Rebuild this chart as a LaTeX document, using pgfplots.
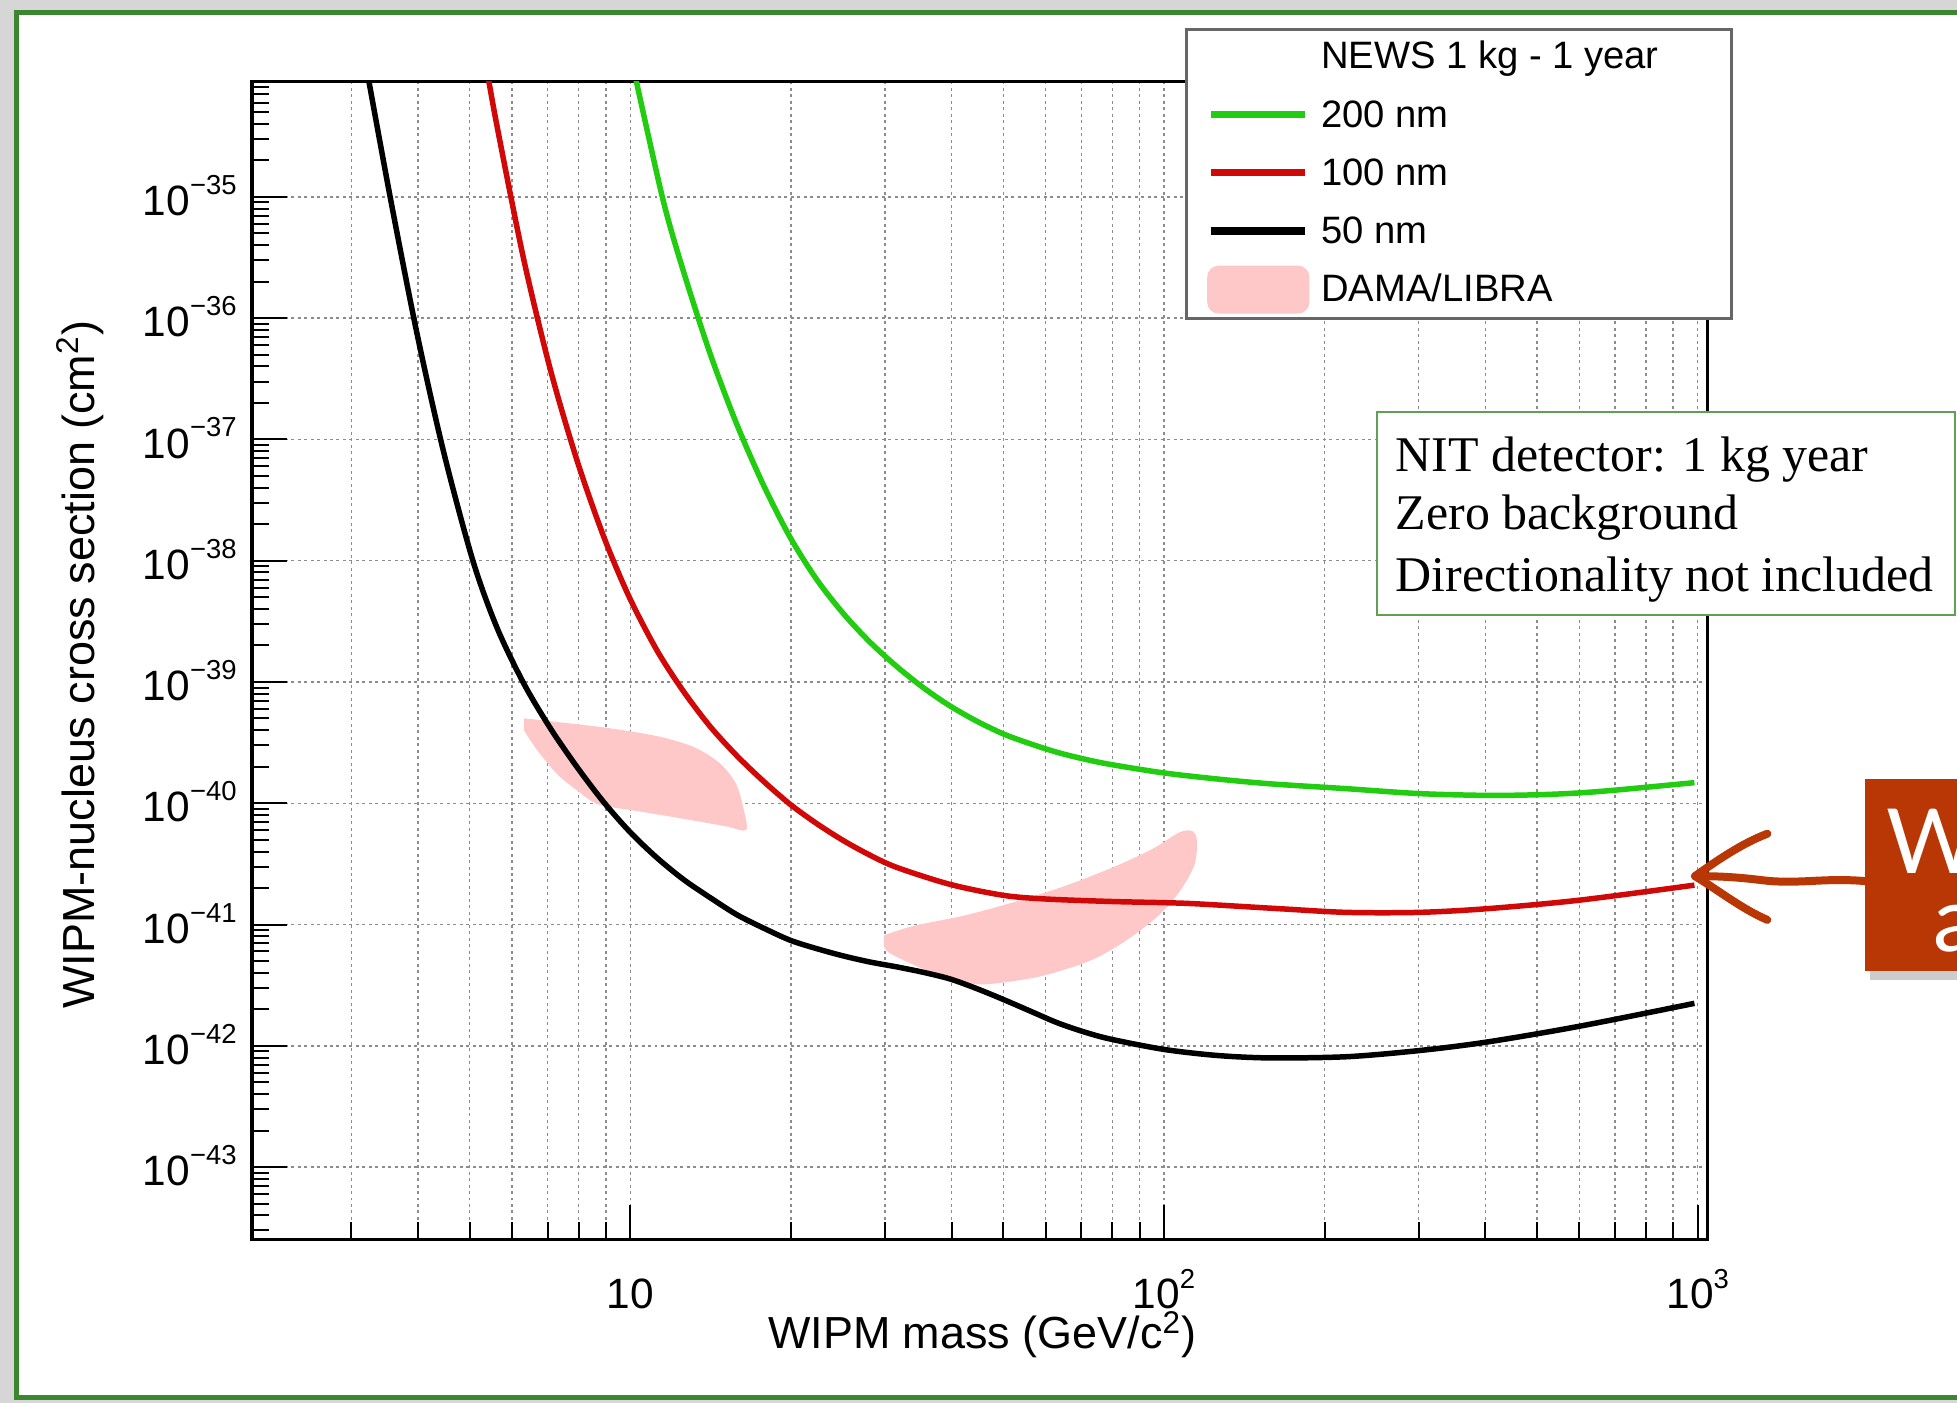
\documentclass[border=0pt]{standalone}
\usepackage{pgfplots}
\pgfplotsset{compat=1.18}
\usepackage{fontspec}
\setmainfont{Liberation Sans}
\newfontfamily\timesfont{Liberation Serif}
\newfontfamily\latofont{Lato}
\definecolor{cgreen}{RGB}{34,204,17}
\definecolor{cred}{RGB}{208,8,8}
\definecolor{cpink}{RGB}{255,200,200}
\definecolor{frameg}{RGB}{58,135,48}
\definecolor{boxg}{RGB}{95,160,85}
\definecolor{orng}{RGB}{185,55,5}
\newcommand\tsup[1]{\raisebox{8.5pt}{\fontsize{11}{11}\selectfont #1}}
\newcommand\lsup[1]{\raisebox{8pt}{\fontsize{11}{11}\selectfont #1}}
\def\yminorlist{}
\foreach \k in {-44,...,-35}{\foreach \m in {2,...,9}{\ifx\yminorlist\empty\xdef\yminorlist{\m e\k}\else\xdef\yminorlist{\yminorlist,\m e\k}\fi}}

\begin{document}
\begin{tikzpicture}
\path[use as bounding box] (0pt,0pt) rectangle (784pt,-562pt);
\begin{scope}[x=0.5pt,y=-0.5pt]
\clip (0,0) rectangle (1568,1124);
\fill[black!16] (0,0) rectangle (1568,1124);
\fill[white] (13,10) rectangle (1600,1120);
\draw[frameg, line width=2pt] (13,10) rectangle (1600,1120);
\end{scope}

\begin{axis}[
  at={(101pt,-496.5pt)}, anchor=south west,
  scale only axis, width=583pt, height=464pt,
  xmode=log, ymode=log,
  xmin=1.956, xmax=1043, ymin=2.53e-44, ymax=9.0e-35,
  xtick={10,100,1000}, xticklabels={10, 10\lsup{2}, 10\lsup{3}},
  minor xtick={3,4,5,6,7,8,9,20,30,40,50,60,70,80,90,200,300,400,500,600,700,800,900},
  ytick={1e-43,1e-42,1e-41,1e-40,1e-39,1e-38,1e-37,1e-36,1e-35},
  yticklabels={10\tsup{−43},10\tsup{−42},10\tsup{−41},10\tsup{−40},10\tsup{−39},10\tsup{−38},10\tsup{−37},10\tsup{−36},10\tsup{−35}},
  minor ytick/.expanded={\yminorlist},
  tick align=inside, tick pos=left,
  major tick length=14pt, minor tick length=7pt,
  every tick/.style={black, line width=0.8pt},
  xmajorgrids, xminorgrids, ymajorgrids,
  grid style={black!45, line width=0.6pt, dash pattern=on 1.2pt off 1.4pt},
  minor grid style={black!45, line width=0.6pt, dash pattern=on 1.2pt off 1.4pt},
  axis line style={line width=1.3pt},
  tick label style={font=\fontsize{17}{17}\selectfont},
  xticklabel style={anchor=base, inner sep=0pt, yshift=-27.5pt},
  yticklabel style={anchor=base east, inner sep=0pt, xshift=-6pt, yshift=-7.5pt},
  xlabel={WIPM mass (GeV/c\textsuperscript{2})},
  ylabel={WIPM-nucleus cross section (cm\textsuperscript{2})},
  every axis x label/.style={at={(axis description cs:0.5017,-0.0945)}, anchor=base, font=\fontsize{18}{18}\selectfont},
  every axis y label/.style={at={(axis description cs:-0.1083,0.4962)}, anchor=base, rotate=90, font=\fontsize{18}{18}\selectfont},
  legend style={
    at={(axis description cs:0.6412,1.0457)}, anchor=north west,
    draw=black!60, line width=1.2pt, fill=white,
    inner xsep=8.2pt, inner ysep=0pt,
    row sep=1pt, column sep=4.75pt,
    font=\fontsize{15.3}{15.3}\selectfont,
    nodes={inner sep=0pt, text height=15.7pt, text depth=6.6pt},
  },
  legend cell align=left,
]
% DAMA/LIBRA regions
\addplot[draw=none, fill=cpink, smooth, forget plot] coordinates {
(6.324,5.012e-40) (7.295,4.677e-40) (9.099,4.169e-40) (11.32,3.548e-40) (13.21,2.884e-40)
(14.76,2.113e-40) (15.78,1.445e-40) (16.29,9.120e-41) (16.48,6.026e-41) (15.10,6.457e-41)
(12.65,7.413e-41) (10.16,8.710e-41) (8.710,9.772e-41) (7.980,1.259e-40) (7.295,1.738e-40)
(6.683,2.754e-40) (6.324,3.981e-40)
} -- cycle;
\addplot[draw=none, fill=cpink, smooth, forget plot] coordinates {
(29.85,8.128e-42) (34.04,9.772e-42) (42.36,1.189e-41) (52.84,1.549e-41) (65.92,2.113e-41)
(82.04,3.090e-41) (95.72,4.266e-41) (106.9,5.754e-41) (113.0,5.888e-41) (115.3,4.898e-41)
(114.0,3.090e-41) (106.9,1.862e-41) (97.72,1.189e-41) (85.70,7.586e-42) (73.45,5.129e-42)
(59.02,3.758e-42) (47.32,3.236e-42) (42.36,3.311e-42) (35.56,4.266e-42) (30.48,5.888e-42)
(29.85,7.079e-42)
} -- cycle;
% 200 nm
\addplot[cgreen, line width=2.2pt, smooth, forget plot] coordinates {
(10.00,1.514e-34) (11.48,1e-35) (12.59,2.399e-36) (14.13,5.012e-37) (15.85,1.318e-37)
(17.78,4.169e-38) (19.95,1.549e-38) (22.39,6.918e-39) (25.12,3.631e-39) (28.18,2.113e-39)
(31.62,1.334e-39) (35.48,8.913e-40) (39.81,6.310e-40) (44.67,4.732e-40) (50.12,3.715e-40)
(56.23,3.090e-40) (63.10,2.630e-40) (70.79,2.317e-40) (79.43,2.089e-40) (100,1.778e-40)
(125.9,1.585e-40) (158.5,1.445e-40) (220.3,1.318e-40) (299.9,1.202e-40) (401.8,1.161e-40)
(501.2,1.175e-40) (598.4,1.216e-40) (707.9,1.288e-40) (986.3,1.479e-40)
};
% 100 nm
\addplot[cred, line width=2.2pt, smooth, forget plot] coordinates {
(5.370,1.202e-34) (5.623,3.890e-35) (6.310,3.090e-36) (7.079,3.802e-37) (7.943,6.761e-38)
(8.913,1.585e-38) (9.954,5.012e-39) (11.22,1.820e-39) (12.59,8.318e-40) (14.13,4.266e-40)
(15.85,2.455e-40) (17.78,1.514e-40) (19.95,9.772e-41) (22.39,6.761e-41) (25.12,4.898e-41)
(28.18,3.715e-41) (31.62,2.951e-41) (39.81,2.138e-41) (50.12,1.738e-41) (60.26,1.622e-41)
(79.43,1.549e-41) (100,1.514e-41) (115.9,1.479e-41) (165.2,1.349e-41) (220.3,1.259e-41)
(299.9,1.259e-41) (401.8,1.349e-41) (598.4,1.585e-41) (986.3,2.113e-41)
};
% 50 nm
\addplot[black, line width=2.2pt, smooth, forget plot] coordinates {
(3.162,1.585e-34) (3.548,1e-35) (3.981,7.586e-37) (4.467,7.943e-38) (5.070,1e-38)
(5.623,2.818e-39) (6.310,9.772e-40) (7.079,4.169e-40) (7.943,1.995e-40) (8.913,1.023e-40)
(10.00,5.754e-41) (11.22,3.548e-41) (12.59,2.344e-41) (14.13,1.660e-41) (15.85,1.202e-41)
(17.78,9.333e-42) (19.95,7.413e-42) (22.39,6.310e-42) (25.12,5.495e-42) (28.18,4.898e-42)
(31.62,4.467e-42) (35.48,4.027e-42) (39.81,3.548e-42) (44.67,2.951e-42) (50.12,2.399e-42)
(56.23,1.928e-42) (63.10,1.549e-42) (70.79,1.303e-42) (79.43,1.135e-42) (100,9.333e-43)
(125.9,8.318e-43) (158.5,7.943e-43) (220.3,8.128e-43) (299.9,9.120e-43) (401.8,1.072e-42)
(598.4,1.445e-42) (986.3,2.239e-42)
};
% legend
\addlegendimage{empty legend}
\addlegendentry{\makebox[156pt][l]{NEWS 1 kg - 1 year}}
\addlegendimage{legend image code/.code={\draw[line width=3pt, cgreen] (0pt,0.5pt) -- (37.75pt,0.5pt);}}
\addlegendentry{200 nm}
\addlegendimage{legend image code/.code={\draw[line width=3pt, cred] (0pt,0.5pt) -- (37.75pt,0.5pt);}}
\addlegendentry{100 nm}
\addlegendimage{legend image code/.code={\draw[line width=3pt, black] (0pt,0.5pt) -- (37.75pt,0.5pt);}}
\addlegendentry{50 nm}
\addlegendimage{legend image code/.code={\fill[cpink, rounded corners=4pt] (-1pt,-8.75pt) rectangle (38.75pt,9.25pt);}}
\addlegendentry{DAMA/LIBRA}
\end{axis}

\begin{scope}[x=0.5pt,y=-0.5pt]
\clip (0,0) rectangle (1568,1124);
\draw[boxg, line width=0.8pt, fill=white] (1103,330) rectangle (1566,493);
\node[anchor=base west, inner sep=0pt, font=\timesfont\fontsize{20}{24}\selectfont] at (1118,378) {NIT detector: 1 kg year};
\node[anchor=base west, inner sep=0pt, font=\timesfont\fontsize{20}{24}\selectfont] at (1118,424.5) {Zero background};
\node[anchor=base west, inner sep=0pt, font=\timesfont\fontsize{20}{24}\selectfont] at (1118,474.3) {Directionality not included};
\fill[black, opacity=0.2] (1498,631) rectangle (1600,785);
\fill[orng] (1494,624) rectangle (1600,778);
\node[anchor=base west, inner sep=0pt, white, font=\latofont\fontsize{36}{36}\selectfont] at (1511,700) {W};
\node[anchor=base west, inner sep=0pt, white, font=\latofont\fontsize{36}{36}\selectfont] at (1549,762) {a};
\draw[orng, line width=3.2pt, line cap=round, line join=round] (1495,706) .. controls (1460,703) and (1440,709) .. (1410,705) .. controls (1385,702) and (1370,702) .. (1358,702);
\draw[orng, line width=3.2pt, line cap=round, line join=round] (1416,668) .. controls (1395,676) and (1375,690) .. (1358,702) .. controls (1375,712) and (1395,728) .. (1416,737);
\end{scope}
\end{tikzpicture}
\end{document}
